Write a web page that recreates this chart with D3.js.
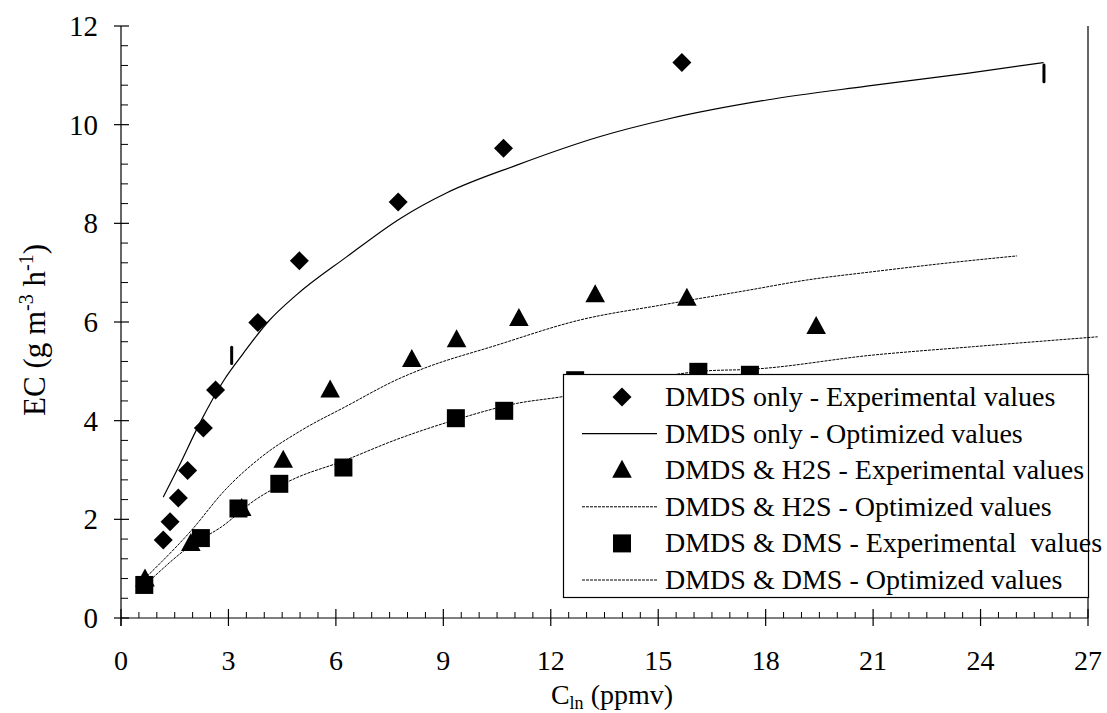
<!DOCTYPE html>
<html>
<head>
<meta charset="utf-8">
<script src="https://cdn.jsdelivr.net/npm/d3@7/dist/d3.min.js"></script>
<style>
  html, body { margin: 0; padding: 0; background: #fff; }
  svg { display: block; }
</style>
</head>
<body>
<svg id="chart" width="1107" height="713"></svg>
<script>
// Elimination capacity vs inlet concentration
const xTickValues = [0, 3, 6, 9, 12, 15, 18, 21, 24, 27];
const yTickValues = [0, 2, 4, 6, 8, 10, 12];

// DMDS only - experimental
const dmdsX  = [1.18, 1.37, 1.60, 1.86, 2.30, 2.64, 3.82, 4.98, 7.74, 10.68, 15.66];
const dmdsY  = [1.58, 1.95, 2.43, 2.99, 3.85, 4.62, 5.99, 7.24, 8.43, 9.52, 11.26];
// DMDS only - optimized
const dmdsFitX = [1.18, 1.6, 2.2, 2.9, 3.4, 4.1, 4.9, 6.3, 7.8, 9.1, 11.05, 13.38, 15.24, 18.03, 20.82, 23.62, 25.76];
const dmdsFitY = [2.45, 3.05, 3.95, 4.85, 5.35, 6.0, 6.55, 7.32, 8.10, 8.62, 9.18, 9.76, 10.11, 10.50, 10.78, 11.04, 11.26];

// DMDS & H2S - experimental
const h2sX = [0.67, 1.95, 3.37, 4.53, 5.84, 8.12, 9.37, 11.11, 13.24, 15.80, 19.41];
const h2sY = [0.79, 1.51, 2.22, 3.20, 4.62, 5.24, 5.64, 6.07, 6.55, 6.48, 5.91];
// DMDS & H2S - optimized
const h2sFitX = [0.72, 1.97, 2.90, 3.93, 5.05, 6.26, 7.79, 8.35, 10.49, 12.81, 15.14, 17.56, 19.14, 21.0, 23.0, 25.02];
const h2sFitY = [0.84, 1.78, 2.59, 3.27, 3.81, 4.28, 4.86, 5.03, 5.53, 6.04, 6.35, 6.65, 6.85, 7.02, 7.19, 7.34];

// DMDS & DMS - experimental
const dmsX = [0.65, 2.23, 3.28, 4.42, 6.21, 9.35, 10.70, 12.68, 16.12, 17.56];
const dmsY = [0.67, 1.62, 2.22, 2.72, 3.05, 4.05, 4.20, 4.82, 4.99, 4.93];
// DMDS & DMS - optimized
const dmsFitX = [0.72, 1.97, 2.81, 3.74, 4.86, 6.16, 7.70, 9.35, 11.05, 12.35, 14.0, 16.36, 17.56, 21.0, 23.80, 27.27];
const dmsFitY = [0.70, 1.48, 1.85, 2.39, 2.83, 3.17, 3.62, 4.02, 4.35, 4.49, 4.74, 5.01, 5.04, 5.33, 5.50, 5.70];

// short vertical bars
const barX  = [3.09, 25.77];
const barY0 = [5.16, 10.87];
const barY1 = [5.49, 11.21];

const legendLabels = [
  "DMDS only - Experimental values",
  "DMDS only - Optimized values",
  "DMDS & H2S - Experimental values",
  "DMDS & H2S - Optimized values",
  "DMDS & DMS - Experimental  values",
  "DMDS & DMS - Optimized values"
];
const legendKinds = ["diamond", "solid", "triangle", "dotted", "square", "dotted"];

const FONT = "'Liberation Serif', Tinos, 'Times New Roman', 'DejaVu Serif', serif";
const FS = 28;

const svg = d3.select("#chart").attr("font-family", FONT);
svg.append("rect").attr("width", 1107).attr("height", 713).attr("fill", "#fff");

const x = d3.scaleLinear().domain([0, 27]).range([121, 1088]);
const y = d3.scaleLinear().domain([0, 12]).range([618, 26]);

// marker shapes (centred at origin)
const shapes = {
  diamond: "M0,-9.5L9.5,0L0,9.5L-9.5,0Z",
  square: "M-9,-9H9V9H-9Z",
  triangle: "M0,-10.5L9.8,7.5H-9.8Z"
};

// ---- axes ----
const g = svg.append("g");

// x axis
g.append("line").attr("x1", x(0)).attr("x2", x(27)).attr("y1", y(0)).attr("y2", y(0))
  .attr("stroke", "#000").attr("stroke-width", 1.2);
const xMinor = d3.range(0, 27.001, 0.5).filter(v => Math.abs(v / 3 - Math.round(v / 3)) > 1e-6);
g.selectAll(".xminor").data(xMinor).join("line")
  .attr("x1", d => x(d)).attr("x2", d => x(d)).attr("y1", y(0)).attr("y2", y(0) - 6)
  .attr("stroke", "#000").attr("stroke-width", 1);
g.selectAll(".xmajor").data(xTickValues).join("line")
  .attr("x1", d => x(d)).attr("x2", d => x(d)).attr("y1", y(0) - 9).attr("y2", y(0) + 8)
  .attr("stroke", "#000").attr("stroke-width", 1.2);
g.selectAll(".xlab").data(xTickValues).join("text")
  .attr("x", d => x(d)).attr("y", 670).attr("text-anchor", "middle")
  .attr("font-family", FONT).attr("font-size", 28).text(d => d);

// y axis
g.append("line").attr("x1", x(0)).attr("x2", x(0)).attr("y1", y(0) + 8).attr("y2", y(12))
  .attr("stroke", "#000").attr("stroke-width", 1.2);
const yMinor = d3.range(0, 12.001, 0.4).filter(v => Math.abs(v / 2 - Math.round(v / 2)) > 1e-6);
g.selectAll(".yminor").data(yMinor).join("line")
  .attr("x1", x(0)).attr("x2", x(0) + 7).attr("y1", d => y(d)).attr("y2", d => y(d))
  .attr("stroke", "#000").attr("stroke-width", 1);
g.selectAll(".ymajor").data(yTickValues).join("line")
  .attr("x1", x(0) - 7).attr("x2", x(0) + 8).attr("y1", d => y(d)).attr("y2", d => y(d))
  .attr("stroke", "#000").attr("stroke-width", 1.2);
g.selectAll(".ylab").data(yTickValues).join("text")
  .attr("x", 98).attr("y", d => y(d) + 10).attr("text-anchor", "end")
  .attr("font-family", FONT).attr("font-size", 29).text(d => d);

// right border
g.append("line").attr("x1", x(27)).attr("x2", x(27)).attr("y1", y(12)).attr("y2", y(0))
  .attr("stroke", "#000").attr("stroke-width", 1.2);

// axis titles
const xt = svg.append("text").attr("x", 612).attr("y", 704).attr("text-anchor", "middle")
  .attr("font-family", FONT).attr("font-size", 28);
xt.append("tspan").text("C");
xt.append("tspan").attr("font-size", 18).attr("dy", 5).text("ln");
xt.append("tspan").attr("dy", -5).text(" (ppmv)");

const yt = svg.append("text").attr("transform", "translate(45,330) rotate(-90)")
  .attr("text-anchor", "middle").attr("font-family", FONT).attr("font-size", 31);
yt.append("tspan").text("EC (g m");
yt.append("tspan").attr("font-size", 20).attr("dy", -12).text("-3");
yt.append("tspan").attr("dy", 12).text(" h");
yt.append("tspan").attr("font-size", 20).attr("dy", -12).text("-1");
yt.append("tspan").attr("dy", 12).text(")");

// ---- fitted curves ----
const line = d3.line().x(d => x(d[0])).y(d => y(d[1])).curve(d3.curveMonotoneX);
const zip = (a, b) => a.map((v, i) => [v, b[i]]);

svg.append("path").datum(zip(dmdsFitX, dmdsFitY)).attr("d", line)
  .attr("fill", "none").attr("stroke", "#000").attr("stroke-width", 1.2);
svg.append("path").datum(zip(h2sFitX, h2sFitY)).attr("d", line)
  .attr("fill", "none").attr("stroke", "#000").attr("stroke-width", 1).attr("stroke-dasharray", "3,1");
svg.append("path").datum(zip(dmsFitX, dmsFitY)).attr("d", line)
  .attr("fill", "none").attr("stroke", "#000").attr("stroke-width", 1).attr("stroke-dasharray", "3,1");

// short bars
svg.selectAll(".bar").data(barX).join("line")
  .attr("x1", d => x(d)).attr("x2", d => x(d))
  .attr("y1", (d, i) => y(barY0[i])).attr("y2", (d, i) => y(barY1[i]))
  .attr("stroke", "#000").attr("stroke-width", 3).attr("stroke-linecap", "round");

// ---- experimental markers ----
function markers(xs, ys, shape) {
  svg.append("g").selectAll("path").data(zip(xs, ys)).join("path")
    .attr("transform", d => `translate(${x(d[0])},${y(d[1])})`)
    .attr("d", shapes[shape]).attr("fill", "#000");
}
markers(dmdsX, dmdsY, "diamond");
markers(h2sX, h2sY, "triangle");
markers(dmsX, dmsY, "square");

// ---- legend ----
const lg = svg.append("g");
lg.append("rect").attr("x", 563.5).attr("y", 374.5).attr("width", 525).attr("height", 223)
  .attr("fill", "#fff").attr("stroke", "#000").attr("stroke-width", 1.2);
const rowY = d3.scaleLinear().domain([0, 5]).range([397, 580]);
legendKinds.forEach((k, i) => {
  const cy = rowY(i);
  if (k === "solid" || k === "dotted") {
    const l = lg.append("line").attr("x1", 582).attr("x2", 657).attr("y1", cy).attr("y2", cy)
      .attr("stroke", "#000").attr("stroke-width", k === "solid" ? 1.2 : 1);
    if (k === "dotted") l.attr("stroke-dasharray", "3,1");
  } else {
    lg.append("path").attr("transform", `translate(622,${cy})`).attr("d", shapes[k]).attr("fill", "#000");
  }
  lg.append("text").attr("x", 665).attr("y", cy + 9).attr("font-family", FONT).attr("font-size", FS)
    .attr("xml:space", "preserve").style("white-space", "pre").text(legendLabels[i]);
});
</script>
</body>
</html>
